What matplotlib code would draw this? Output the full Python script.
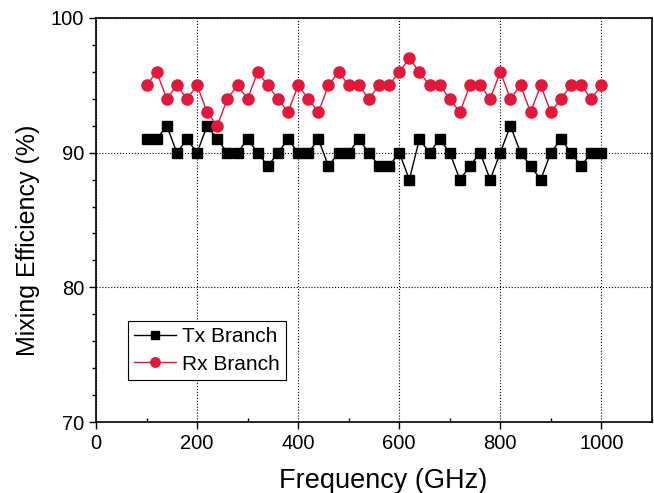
import matplotlib
matplotlib.use("Agg")
import matplotlib.pyplot as plt
from matplotlib.ticker import MultipleLocator

plt.rcParams['font.family'] = ['Liberation Sans', 'DejaVu Sans']

freq = list(range(100, 1001, 20))
tx = [91, 91, 92, 90, 91, 90, 92, 91, 90, 90, 91, 90, 89, 90, 91, 90, 90, 91, 89, 90, 90, 91, 90,
      89, 89, 90, 88, 91, 90, 91, 90, 88, 89, 90, 88, 90, 92, 90, 89, 88, 90, 91, 90, 89, 90, 90]
rx = [95, 96, 94, 95, 94, 95, 93, 92, 94, 95, 94, 96, 95, 94, 93, 95, 94, 93, 95, 96, 95, 95, 94,
      95, 95, 96, 97, 96, 95, 95, 94, 93, 95, 95, 94, 96, 94, 95, 93, 95, 93, 94, 95, 95, 94, 95]
xticks = [0, 200, 400, 600, 800, 1000]
yticks = [70, 80, 90, 100]

fig = plt.figure(figsize=(6.54, 4.93), dpi=100)
ax = fig.add_axes([0.1468, 0.144, 0.850, 0.8195])

ax.plot(freq, tx, '-s', color='black', lw=1, markersize=7.5, label='Tx Branch')
ax.plot(freq, rx, '-o', color='#E2183A', lw=1, markersize=8, label='Rx Branch')

ax.set_xlim(0, 1100)
ax.set_ylim(70, 100)
ax.set_xticks(xticks)
ax.set_yticks(yticks)
ax.xaxis.set_minor_locator(MultipleLocator(100))
ax.yaxis.set_minor_locator(MultipleLocator(2))
ax.tick_params(axis='both', which='major', labelsize=14.5, direction='out', length=5, width=1)
ax.tick_params(axis='y', which='minor', direction='out', length=3, width=1)
ax.tick_params(axis='x', which='minor', direction='in', length=3, width=1)
ax.grid(True, which='major', linestyle=':', color='black', lw=0.8)
for s in ax.spines.values():
    s.set_linewidth(1.2)

ax.set_xlabel('Frequency (GHz)', fontsize=19.5)
ax.set_ylabel('Mixing Efficiency (%)', fontsize=18)
ax.xaxis.set_label_coords(0.516, -0.115)
ax.yaxis.set_label_coords(-0.1, 0.45)

leg = ax.legend(loc='lower left', bbox_to_anchor=(0.0576, 0.104), borderaxespad=0,
                fontsize=15, frameon=True, markerscale=0.85,
                fancybox=False, edgecolor='black', framealpha=1, borderpad=0.3,
                handlelength=2.0, handletextpad=0.3, labelspacing=0.4)
leg.get_frame().set_linewidth(0.8)

fig.savefig('out.png', dpi=100)
